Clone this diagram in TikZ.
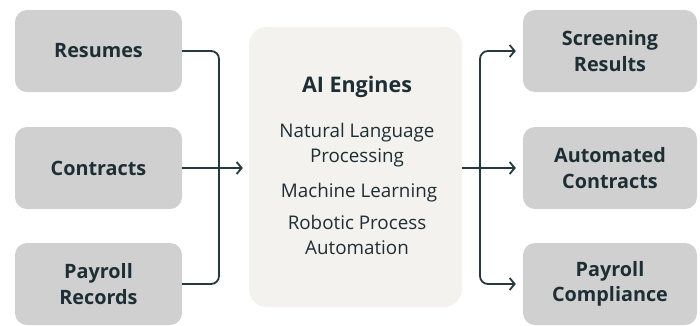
\documentclass[tikz,border=0pt]{standalone}
\usepackage{fontspec}
\setmainfont{Open Sans}
\usetikzlibrary{arrows.meta}
\definecolor{boxgray}{HTML}{D0D0D0}
\definecolor{aifill}{HTML}{F4F2EF}
\definecolor{textc}{HTML}{1E2E35}
\definecolor{linec}{HTML}{263840}
\begin{document}
\begin{tikzpicture}[x=1pt,y=-1pt,
  gbox/.style={fill=boxgray, draw=none, rounded corners=12pt, minimum height=82pt, align=center, text=textc, font=\fontsize{19.8}{25.5}\selectfont\bfseries, inner sep=0pt},
  lbox/.style={gbox, minimum width=167pt},
  rbox/.style={gbox, minimum width=174pt},
  aibox/.style={fill=aifill, draw=none, rounded corners=18pt, minimum width=213pt, minimum height=280pt, inner sep=0pt},
  aititle/.style={text=textc, font=\fontsize{21.5}{24}\selectfont\bfseries, anchor=base, inner sep=0pt},
  aiitem/.style={text=textc, font=\fontsize{18.8}{25}\selectfont, anchor=base, align=center, inner sep=0pt},
  conn/.style={draw=linec, line width=1.8pt},
  tip/.style={-{Straight Barb[length=5pt,width=12pt,line width=1.8pt]}}
]
\useasboundingbox (0,0) rectangle (700,325);
\fill[white] (0,0) rectangle (700,325);

\node[lbox] (res) at (98.5,51) {Resumes};
\node[lbox] (con) at (98.5,168) {Contracts};
\node[lbox] (pay) at (98.5,284) {Payroll\\Records};

\node[aibox] (ai) at (355.5,167) {};
\node[aititle] (ttl) at (357,92) {AI Engines};
\node[aiitem] (nlp) at (357,137) {Natural Language};
\node[aiitem] (nlp2) at (357,162) {Processing};
\node[aiitem] (ml) at (359,197) {Machine Learning};
\node[aiitem] (rpa) at (357,229) {Robotic Process};
\node[aiitem] (rpa2) at (357,254) {Automation};

\node[rbox] (scr) at (610,51) {Screening\\Results};
\node[rbox] (acn) at (610,168) {Automated\\Contracts};
\node[rbox] (pcm) at (610,284) {Payroll\\Compliance};

\coordinate (jl) at (219,0);
\coordinate (jr) at (480,0);

\draw[conn, rounded corners=8pt] (res.east) -- (res.east -| jl) -- (pay.east -| jl) -- (pay.east);
\draw[conn, tip, shorten >=6pt] (con.east) -- (con.east -| ai.west);
\draw[conn] (ai.east |- acn.west) -- (acn.west -| jr);
\draw[conn, tip, shorten >=7pt] (acn.west -| jr) -- (acn.west);
\draw[conn, rounded corners=8pt, tip, shorten >=7pt] (jr |- acn.west) -- (scr.west -| jr) -- (scr.west);
\draw[conn, rounded corners=8pt, tip, shorten >=7pt] (jr |- acn.west) -- (pcm.west -| jr) -- (pcm.west);
\end{tikzpicture}
\end{document}
